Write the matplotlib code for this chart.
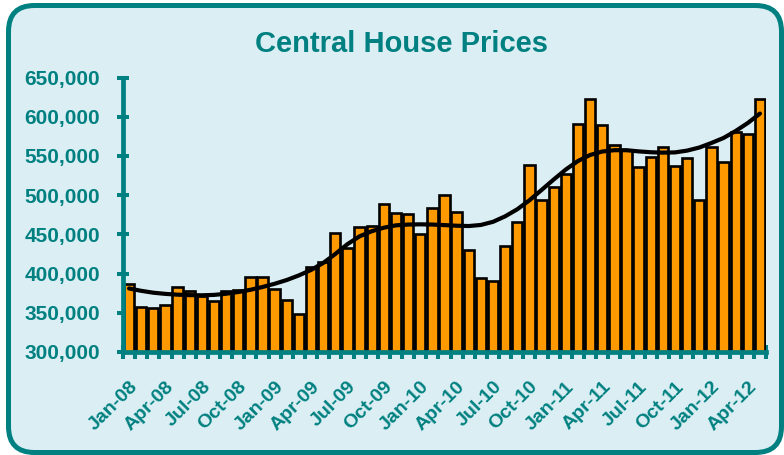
import numpy as np
import matplotlib
matplotlib.use("Agg")
import matplotlib.pyplot as plt
from matplotlib.patches import FancyBboxPatch

# ---- data ----
months = ["Jan", "Feb", "Mar", "Apr", "May", "Jun", "Jul", "Aug", "Sep", "Oct", "Nov", "Dec"]
years = ["08", "09", "10", "11", "12"]
categories = [f"{m}-{y}" for y in years for m in months][:53]

prices = [
    387000, 358000, 356000, 360000, 383000, 378000, 371000, 365000, 378000, 379000, 395000, 395000,
    380000, 366000, 348000, 408000, 415000, 452000, 432000, 459000, 461000, 489000, 477000, 476000,
    450000, 484000, 500000, 478000, 430000, 394000, 390000, 435000, 466000, 538000, 494000, 510000,
    527000, 591000, 622000, 590000, 564000, 558000, 536000, 548000, 561000, 537000, 547000, 494000,
    561000, 542000, 581000, 578000, 623000,
]
# trendline values at each month
trend = [
    381000, 378000, 375600, 374100, 373100, 372500, 372300, 372800, 374300, 376500, 379300, 382900,
    387000, 391800, 397700, 404600, 413500, 425000, 437500, 447500, 454000, 458500, 461500, 462500,
    462800, 462500, 461800, 461000, 460600, 462000, 466000, 473000, 482000, 493400, 506600, 519900,
    532700, 543500, 551200, 555600, 557300, 557300, 555800, 554700, 554200, 554500, 556800, 560700,
    566500, 572900, 581800, 592000, 604000,
]
tick_labels = categories[::3]
y_ticks = [300000, 350000, 400000, 450000, 500000, 550000, 600000, 650000]

TEAL = "#008080"
BG = "#DAEEF3"
ORANGE = "#FF9900"

plt.rcParams["font.family"] = ["Liberation Sans", "DejaVu Sans"]

W, H = 784, 455
fig = plt.figure(figsize=(W / 100, H / 100), dpi=100)
fig.patch.set_facecolor("white")

# background frame in pixel coordinates
bg = fig.add_axes([0, 0, 1, 1], zorder=-1)
bg.set_xlim(0, W)
bg.set_ylim(H, 0)
bg.axis("off")
frame = FancyBboxPatch((8.5, 5.5), 781.5 - 8.5, 452.5 - 5.5,
                       boxstyle="round,pad=0,rounding_size=26",
                       facecolor=BG, edgecolor=TEAL, linewidth=3.6)
bg.add_patch(frame)

# main axes
left, right, top, bottom = 123, 766, 77.5, 352
ax = fig.add_axes([left / W, 1 - bottom / H, (right - left) / W, (bottom - top) / H])
ax.set_facecolor("none")

x = np.arange(len(prices))
ax.bar(x, prices, width=0.85, color=ORANGE, edgecolor="black", linewidth=1.9, zorder=2)
ax.plot(x, trend, color="black", linewidth=3, solid_capstyle="round", zorder=3)

ax.set_xlim(-0.5, len(prices) - 0.5)
ax.set_ylim(300000, 650000)

for s in ["top", "right"]:
    ax.spines[s].set_visible(False)
for s in ["left", "bottom"]:
    ax.spines[s].set_color(TEAL)
    ax.spines[s].set_linewidth(3.4)
    ax.spines[s].set_zorder(4)

ax.set_yticks(y_ticks)
ax.set_yticklabels([f"{v:,}" for v in y_ticks])
ax.tick_params(axis="y", direction="inout", length=8.6, width=2.9, color=TEAL,
               labelcolor=TEAL, labelsize=15, pad=12)
for lab in ax.get_yticklabels():
    lab.set_fontweight("bold")

ax.set_xticks(x[::3])
ax.set_xticklabels(tick_labels, rotation=45, ha="right", rotation_mode="anchor")
ax.set_xticks(np.arange(-0.5, len(prices)), minor=True)
ax.tick_params(axis="x", which="major", length=0, labelcolor=TEAL, labelsize=14, pad=19)
ax.tick_params(axis="x", which="minor", direction="inout", length=9.4, width=2.9, color=TEAL)
for lab in ax.get_xticklabels():
    lab.set_fontweight("bold")

fig.text(401 / W, 1 - 44 / H, "Central House Prices", ha="center", va="center",
         fontsize=21, fontweight="bold", color=TEAL)

fig.savefig("out.png", dpi=100)
